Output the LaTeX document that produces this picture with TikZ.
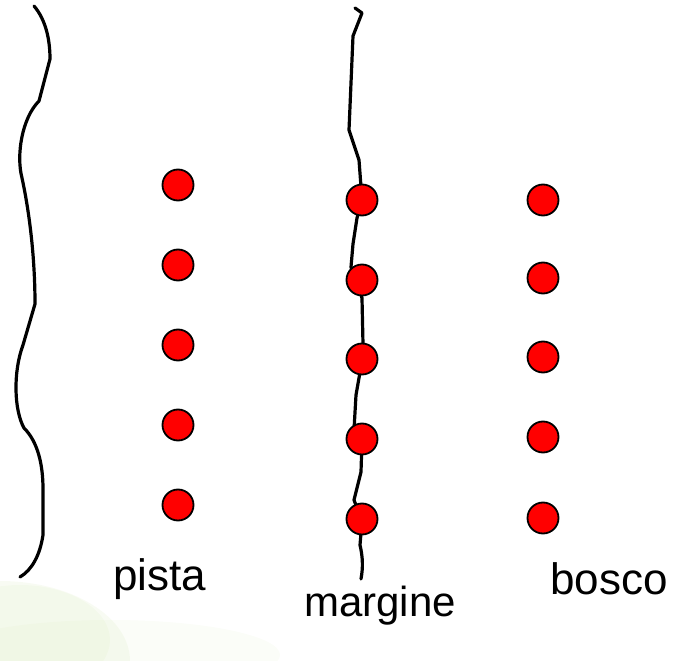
\documentclass[tikz,border=0pt]{standalone}
\usepackage{fontspec}
\setmainfont{Liberation Sans}
\begin{document}
\begin{tikzpicture}[x=1pt,y=-1pt,
  dot/.style={circle,draw=black,line width=1.8pt,fill=red,minimum size=31pt,inner sep=0pt},
  edge/.style={line width=3.2pt,line join=round,line cap=round},
  lbl/.style={font=\fontsize{44}{44}\selectfont,inner sep=0pt},
  lblm/.style={font=\fontsize{42}{42}\selectfont,inner sep=0pt}]
\useasboundingbox (0,0) rectangle (681,661);
% faint watermark
\definecolor{wm}{RGB}{200,225,160}
\fill[wm,opacity=0.12] (0,661) ellipse (130 and 80);
\fill[wm,opacity=0.10] (20,640) ellipse (90 and 55);
\fill[wm,opacity=0.08] (110,655) ellipse (170 and 35);
% left boundary
\draw[edge] (34,6) .. controls (46,20) and (50,40) .. (50,59)
  -- (39,101) .. controls (22,118) and (16,155) .. (22,178)
  .. controls (30,215) and (35,260) .. (35,304)
  -- (23,345) .. controls (13,372) and (14,410) .. (24,428)
  .. controls (38,442) and (43,465) .. (43,489)
  -- (43,535) .. controls (40,555) and (32,570) .. (20,577);
% middle boundary
\draw[edge] (355,8) -- (362,13) -- (353,36) -- (349,130) -- (359,160) -- (362,200)
  -- (357,218) -- (353,244) -- (351,267) -- (362,298) -- (363,344) -- (362,361)
  -- (356,395) -- (354,430) -- (362,441) -- (361,472) -- (354,500) -- (362,521)
  -- (360,545) .. controls (363,558) and (363,568) .. (361,579);
% dots
\foreach \i/\y in {1/185,2/265,3/345,4/425,5/505} \node[dot] (p\i) at (178,\y) {};
\foreach \i/\y in {1/200,2/280,3/359,4/439,5/519} \node[dot] (m\i) at (362,\y) {};
\foreach \i/\y in {1/200,2/278,3/357,4/437,5/518} \node[dot] (b\i) at (543,\y) {};
% labels
\node[lbl] (lp) at (160,579) {pista};
\node[lblm] (lm) at (380,606) {margine};
\node[lbl] (lb) at (609,579) {bosco};
\end{tikzpicture}
\end{document}
